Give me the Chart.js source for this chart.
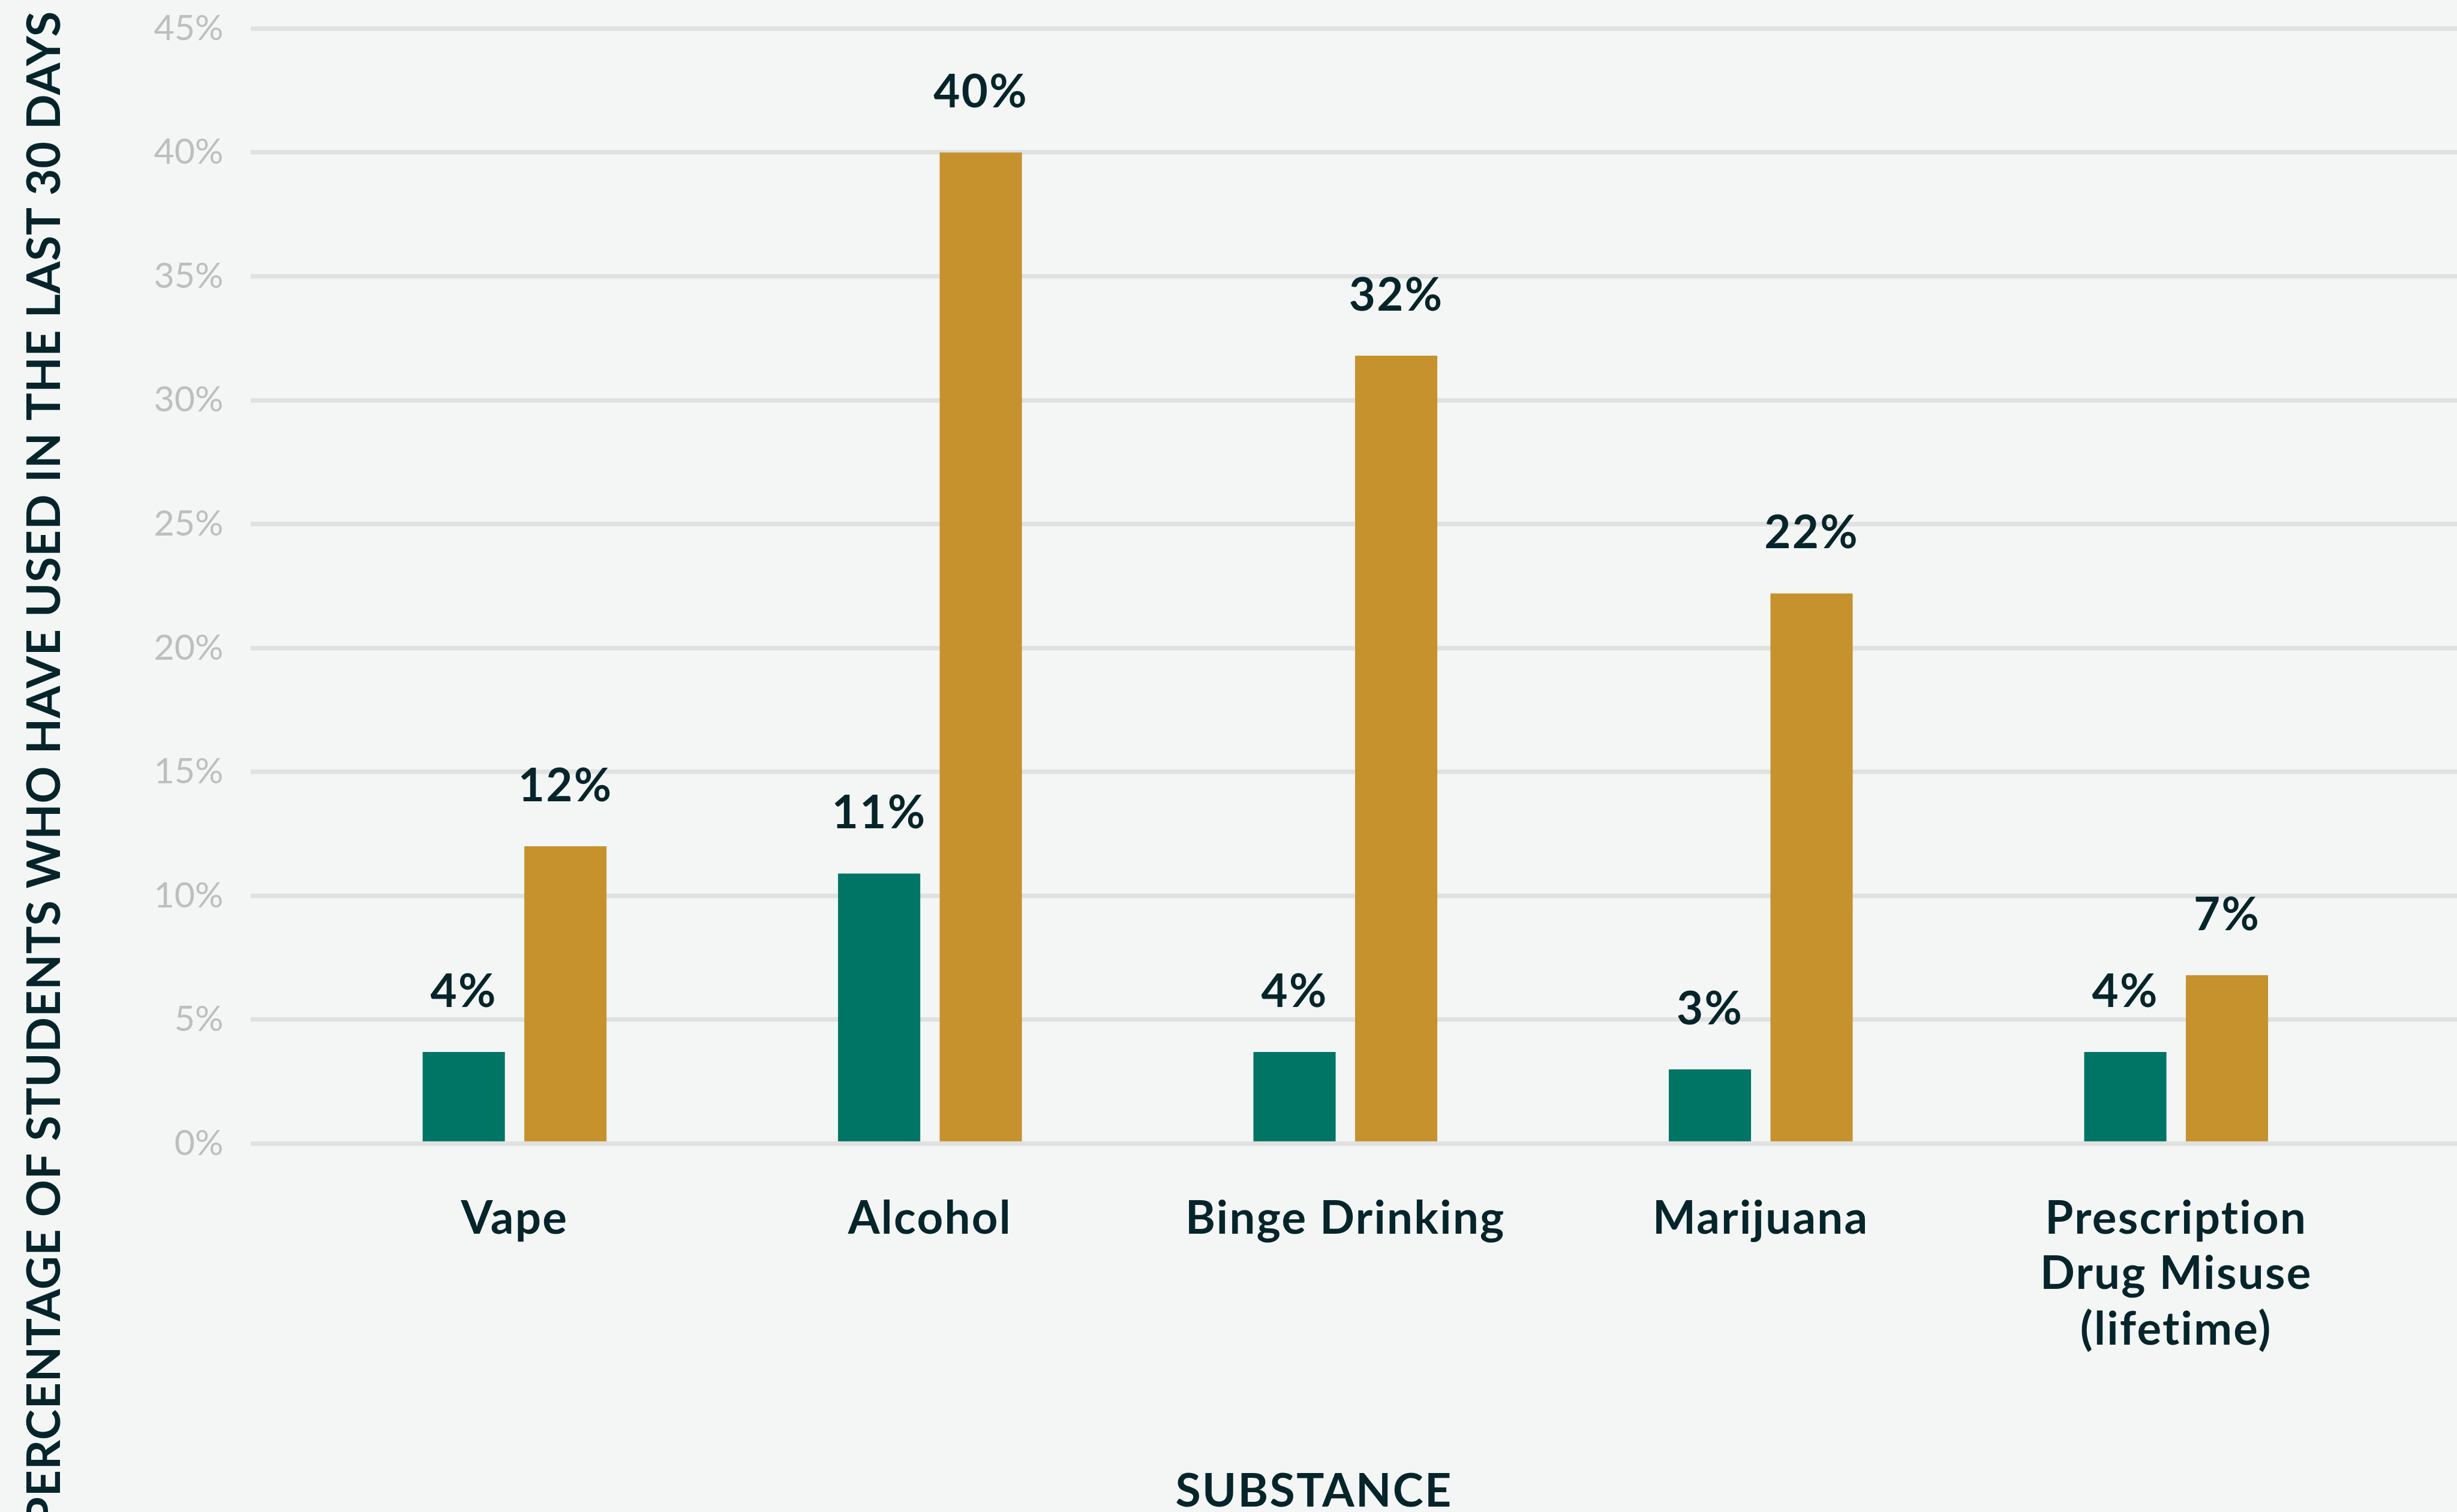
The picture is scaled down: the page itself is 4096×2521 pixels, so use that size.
<!DOCTYPE html>
<html>
<head>
<meta charset="utf-8">
<title>Substance use</title>
<script src="https://cdn.jsdelivr.net/npm/chart.js@4.4.1/dist/chart.umd.min.js"></script>
<style>
html,body{margin:0;padding:0;background:#f4f6f5;}
#wrap{width:4096px;height:2521px;}
</style>
</head>
<body>
<div id="wrap"><canvas id="chart" width="4096" height="2521"></canvas></div>
<script>

let categories = ["Vape","Alcohol","Binge Drinking","Marijuana",["Prescription","Drug Misuse","(lifetime)"]];
let greenValues = [3.7,10.9,3.7,3.0,3.7];
let goldValues = [12.0,40.0,31.8,22.2,6.8];
let yMax = 45;
let yStep = 5;
let yTitle = "PERCENTAGE OF STUDENTS WHO HAVE USED IN THE LAST 30 DAYS";
let xTitle = "SUBSTANCE";

let S = 0.952;
let textColor = "#06252b";
let gridColor = "#e0e1e0";
let boldSpacing = (2.4*S) + "px";

/* value labels above the bars */
let valueLabels = {
id:"valueLabels",
afterDatasetsDraw(chart){
let ctx = chart.ctx;
ctx.save();
ctx.letterSpacing = boldSpacing;
ctx.font = "700 " + (80*S) + "px Lato";
ctx.fillStyle = textColor;
ctx.textAlign = "center";
ctx.textBaseline = "alphabetic";
chart.data.datasets.forEach((ds,i)=>{
chart.getDatasetMeta(i).data.forEach((bar,j)=>{
ctx.fillText(Math.round(ds.data[j]) + "%", bar.x, bar.y - 79*S);
});
});
ctx.restore();
// x tick labels are drawn next (ticks.z = 1), with the same spacing
ctx.letterSpacing = boldSpacing;
},
afterDraw(chart){
chart.ctx.letterSpacing = "0px";
}
};

/* axis titles, placed like the original */
let axisTitles = {
id:"axisTitles",
afterDraw(chart){
let ctx = chart.ctx;
ctx.save();
ctx.letterSpacing = "0px";
ctx.fillStyle = textColor;
ctx.font = "700 " + (81*S) + "px Lato";
ctx.textBaseline = "alphabetic";

ctx.save();
ctx.translate(105*S, 2672*S);
ctx.rotate(-Math.PI/2);
ctx.textAlign = "left";
let w = ctx.measureText(yTitle).width;
ctx.letterSpacing = ((2652*S - w)/(yTitle.length-1)) + "px";
ctx.fillText(yTitle, 0, 0);
ctx.restore();

ctx.letterSpacing = boldSpacing;
ctx.textAlign = "center";
ctx.fillText(xTitle, 2301*S, 2639*S);
ctx.restore();
}
};

function drawChart(){

new Chart(document.getElementById("chart"),{
type:"bar",
data:{
labels:categories,
datasets:[
{label:"Group 1",data:greenValues,backgroundColor:"#007565"},
{label:"Group 2",data:goldValues,backgroundColor:"#c6922e"}
]
},
options:{
responsive:false,
animation:false,
layout:{padding:{top:50*S,left:0,right:0,bottom:0}},
datasets:{bar:{categoryPercentage:0.4894,barPercentage:0.809,borderWidth:0}},
plugins:{legend:{display:false},tooltip:{enabled:false}},
scales:{
x:{
grid:{display:false,drawTicks:false},
border:{display:false},
ticks:{
z:1,
color:textColor,
padding:83*S,
maxRotation:0,
autoSkip:false,
font:{family:"Lato",weight:"700",size:80*S,lineHeight:1.215}
},
afterFit:s=>{s.height = 2521 - 2003*S;}
},
y:{
min:0,
max:yMax,
grid:{color:gridColor,tickColor:gridColor,lineWidth:8*S,tickLength:98.4*S,drawTicks:true},
border:{display:false},
ticks:{
stepSize:yStep,
color:"#bdbfbe",
padding:48*S,
font:{family:"Lato",weight:"400",size:62*S},
callback:v=>v + "%"
},
afterFit:s=>{s.width = 537.4*S; s.paddingTop = 0; s.paddingBottom = 0;}
},
y2:{
position:"right",
min:0,
max:yMax,
grid:{color:gridColor,tickColor:gridColor,lineWidth:8*S,tickLength:4096 - 4174.4*S,drawTicks:true,drawOnChartArea:false},
border:{display:false},
ticks:{stepSize:yStep,display:false},
afterFit:s=>{s.width = 4096 - 4174.4*S; s.paddingTop = 0; s.paddingBottom = 0;}
}
}
},
plugins:[valueLabels,axisTitles]
});

}

Promise.all([
document.fonts.load("700 76px Lato"),
document.fonts.load("400 59px Lato")
]).then(drawChart,drawChart);

</script>
</body>
</html>
